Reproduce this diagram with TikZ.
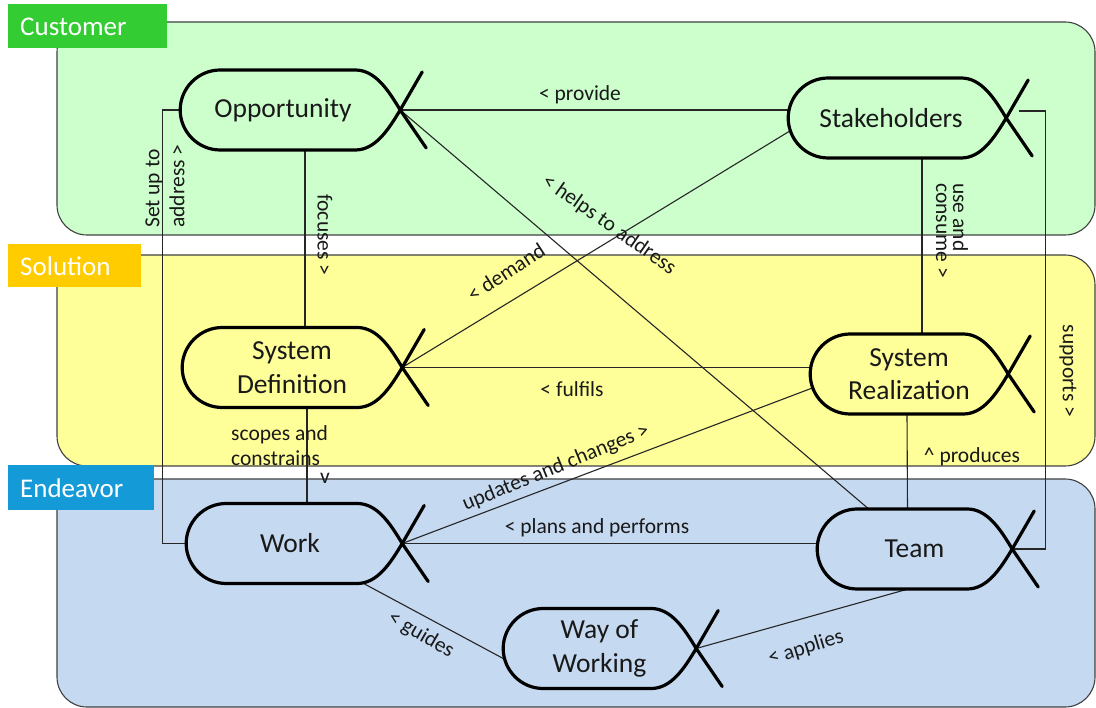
\documentclass[tikz,border=0pt]{standalone}
\usepackage{fontspec}
\setmainfont{Carlito}
\definecolor{custbg}{HTML}{CCFFCC}
\definecolor{solbg}{HTML}{FFFF99}
\definecolor{endbg}{HTML}{C5D9F1}
\definecolor{custtag}{HTML}{33CC33}
\definecolor{soltag}{HTML}{FFCC00}
\definecolor{endtag}{HTML}{149BD7}
\newcommand\drawfish[2]{%
  \pgfmathsetmacro\fl{-#2+40}%
  \pgfmathsetmacro\fk{-#2+18}%
  \pgfmathsetmacro\fe{-#2}%
  \draw[fishline, shift={(#1.east)}] (26,38) -- (0,0) .. controls (-12,-20) and (-25,-40) .. (-45,-40)
    -- (\fl,-40) .. controls (\fk,-40) and (\fe,-22) .. (\fe,0) .. controls (\fe,22) and (\fk,40) .. (\fl,40)
    -- (-45,40) .. controls (-25,40) and (-12,20) .. (0,0) -- (22,-38);
}
\begin{document}
\begin{tikzpicture}[x=1pt,y=-1pt,
  band/.style={draw=black!75, line width=1.1pt, rounded corners=30pt},
  tag/.style={text=white, font=\fontsize{27}{30}\selectfont, inner sep=0pt, anchor=west},
  essence/.style={minimum height=80pt, inner sep=0pt, font=\fontsize{27.5}{33.5}\selectfont, align=center, text=black!90},
  conn/.style={draw=black!85, line width=1.1pt},
  lbl/.style={font=\fontsize{21.5}{25}\selectfont, inner sep=0pt, align=center, text=black!90},
  fishline/.style={line width=3.2pt, line cap=round, line join=round}
]
\useasboundingbox (0,0) rectangle (1096,708);
% bands
\path[band, fill=custbg] (57,22) rectangle (1095,235);
\path[band, fill=solbg] (57,255) rectangle (1095,466);
\path[band, fill=endbg] (57,479) rectangle (1095,707);
% band tags
\fill[custtag] (8,4) rectangle (167,48);
\node[tag] (tcust) at (20,27) {Customer};
\fill[soltag] (8,244) rectangle (141,287);
\node[tag] (tsol) at (20,266) {Solution};
\fill[endtag] (8,465) rectangle (154,510);
\node[tag] (tend) at (20,488) {Endeavor};
% nodes
\node[essence, minimum width=220pt] (opp) at (290,110) {\hbox{\kern-14pt Opportunity}};
\node[essence, minimum width=218pt] (stk) at (897,118) {\hbox{\kern-12pt Stakeholders}};
\node[essence, minimum width=220pt] (sd) at (292,367.5) {System\\Definition};
\node[essence, minimum width=198pt] (sr) at (909,374) {System\\Realization};
\node[essence, minimum width=216pt] (work) at (294,543.5) {\hbox{\kern-8pt Work}};
\node[essence, minimum width=195pt] (team) at (914.5,549) {Team};
\node[essence, minimum width=193pt] (wow) at (599.5,648.5) {Way of\\Working};
% connectors
\draw[conn] (opp.east) -- (opp.east -| stk.west);
\draw[conn] ([xshift=15pt]opp.south) -- ([xshift=13pt]sd.north);
\draw[conn] ([xshift=15pt]sd.south) -- ([xshift=13pt]work.north);
\draw[conn] ([xshift=25pt]stk.south) -- ([xshift=13pt]sr.north);
\draw[conn] ([xshift=-2pt]sr.south) -- ([xshift=-7pt]team.north);
\draw[conn] (sd.east) -- (sd.east -| sr.west);
\draw[conn] ([shift={(2,13)}]stk.west) -- (sd.east);
\draw[conn] (opp.east) -- ([xshift=-46pt]team.north);
\draw[conn] (work.east) -- ([shift={(2.5,14)}]sr.west);
\draw[conn] (work.east) -- (work.east -| team.west);
\draw[conn] ([xshift=70pt]work.south) -- ([shift={(1.3,10.5)}]wow.west);
\draw[conn] ([xshift=-7pt]team.south) -- (wow.east);
\draw[conn] (opp.west) -- ++(-17,0) |- (work.west);
\draw[conn] ([shift={(13,-7)}]stk.east) -- ++(26,0) |- (team.east);
% shapes
\drawfish{opp}{220}
\drawfish{stk}{218}
\drawfish{sd}{220}
\drawfish{sr}{198}
\drawfish{work}{216}
\drawfish{team}{195}
\drawfish{wow}{193}
% labels
\node[lbl] (lprov) at (580,95) {< provide};
\node[lbl, rotate=-90] (lfoc) at (325,235) {focuses >};
\node[lbl, align=left, anchor=west] (lscope) at (231,446) {scopes and\\constrains};
\node[lbl] (lv) at (325,478) {v};
\node[lbl, align=left, rotate=90, anchor=west] (lsetup) at (165,228) {Set up to\\address >};
\node[lbl, rotate=-35] (lhelp) at (609,225) {< helps to address};
\node[lbl, rotate=33] (ldem) at (506,272) {< demand};
\node[lbl, align=left, rotate=-90, anchor=west, font=\fontsize{21.5}{17}\selectfont] (luse) at (952,183) {use and\\consume >};
\node[lbl] (lful) at (572,389) {< fulfils};
\node[lbl, rotate=22] (lupd) at (556,468) {updates and changes >};
\node[lbl] (lprod) at (972,457) {\^{} produces};
\node[lbl, rotate=-90] (lsup) at (1068,371) {supports >};
\node[lbl] (lplan) at (597,528) {< plans and performs};
\node[lbl, rotate=-30] (lguide) at (421,635) {< guides};
\node[lbl, rotate=17] (lapp) at (806,648) {< applies};
\end{tikzpicture}
\end{document}
